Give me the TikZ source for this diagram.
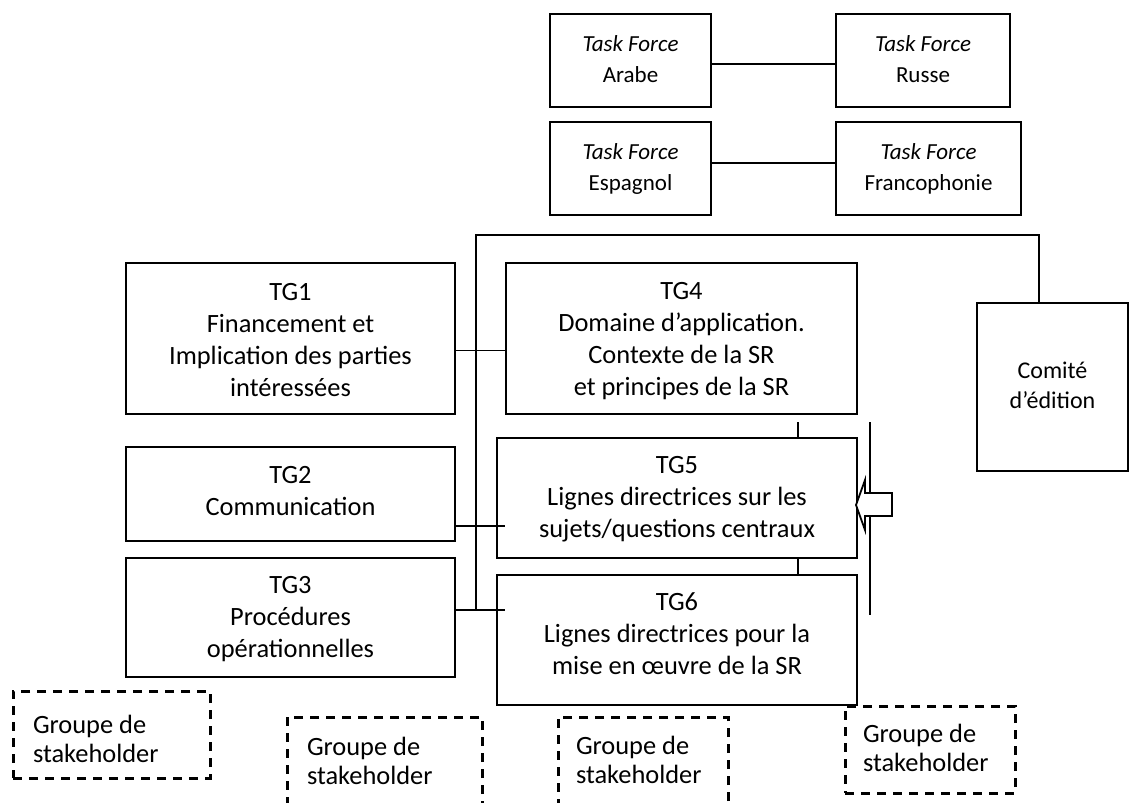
\documentclass[tikz,border=0pt]{standalone}
\usepackage{fontspec}
\setmainfont{Carlito}
\newcommand{\bxt}[4]{\parbox[c][#2pt][t]{#1pt}{\centering\rule{0pt}{#3pt}#4}}
\newcommand{\bxl}[5]{\parbox[c][#2pt][t]{#1pt}{\raggedright\leftskip=#4pt\relax\rule{0pt}{#3pt}#5}}
\newcommand{\tff}{\fontsize{23}{31}\selectfont}
\newcommand{\tgf}{\fontsize{26.4}{32.3}\selectfont}
\newcommand{\cmf}{\fontsize{24}{30}\selectfont}
\newcommand{\shf}{\fontsize{26.4}{29.5}\selectfont}
\tikzset{
  bx/.style={draw, line width=1.9pt, inner sep=0pt},
  dbx/.style={draw, line width=3pt, dash pattern=on 9pt off 7pt, inner sep=0pt},
  conn/.style={line width=1.4pt},
  blockarrow/.style={draw, fill=white, line width=1.8pt, line join=miter}
}
\begin{document}
\begin{tikzpicture}[x=1pt, y=-1pt]
\useasboundingbox (0,0) rectangle (1141,803);
\clip (0,0) rectangle (1141,803);
\fill[white] (0,0) rectangle (1141,803);

% Task forces
\node[bx, font=\tff] (ar) at (630.5,60.5) {\bxt{161}{93}{37}{\textit{Task Force}\\Arabe}};
\node[bx, font=\tff] (ru) at (923,60.5) {\bxt{174}{93}{37}{\textit{Task Force}\\Russe}};
\node[bx, font=\tff] (es) at (630.5,168.5) {\bxt{161}{93}{37}{\textit{Task Force}\\Espagnol}};
\node[bx, font=\tff] (fr) at (928.5,168.5) {\bxt{185}{93}{37}{\textit{Task Force}\\Francophonie}};
\draw[conn] ([yshift=-3.5pt]ar.east) -- ([yshift=-3.5pt]ru.west);
\draw[conn] ([yshift=5.5pt]es.east) -- ([yshift=5.5pt]fr.west);

% TG boxes
\node[bx, font=\tgf] (tg1) at (290.5,338.5) {\bxt{329}{151}{37}{TG1\\Financement et\\Implication des parties\\intéressées}};
\node[bx, font=\tgf] (tg2) at (290.5,494) {\bxt{329}{94}{36}{TG2\\Communication}};
\node[bx, font=\tgf] (tg3) at (290.5,617.5) {\bxt{329}{119}{35}{TG3\\Procédures\\opérationnelles}};
\node[bx, font=\tgf] (tg4) at (681.5,338.5) {\bxt{351}{151}{36}{TG4\\Domaine d’application.\\Contexte de la SR\\et principes de la SR}};
\node[bx, font=\tgf] (tg5) at (677,498) {\bxt{360}{120}{35}{TG5\\Lignes directrices sur les\\sujets/questions centraux}};
\node[bx, font=\tgf] (tg6) at (677,640) {\bxt{360}{130}{35}{TG6\\Lignes directrices pour la\\mise en œuvre de la SR}};
\node[bx, font=\cmf] (com) at (1052.5,387) {\bxt{151}{168}{75}{Comité\\d’édition}};

% main tree
\coordinate (bt) at (476,235);
\coordinate (bb) at (476,610);
\coordinate (ct) at (1039,235);
\draw[conn] (bb) -- (bt) -- (ct) -- (ct |- com.north);
\draw[conn] ([yshift=-12pt]tg1.east) -- ([yshift=-12pt]tg4.west);
\draw[conn] ([yshift=-32pt]tg2.east) -- ([yshift=-32pt]tg2.east -| tg4.west);
\draw[conn] ([yshift=7.5pt]tg3.east) -- ([yshift=7.5pt]tg3.east -| tg4.west);

% TG4-TG5-TG6 links
\coordinate (v1) at (798,422);
\draw[conn] (v1) -- (v1 |- tg5.north);
\draw[conn] (tg5.south -| v1) -- (tg6.north -| v1);

% right vertical line and block arrow
\coordinate (r1) at (870,422);
\coordinate (r2) at (870,615);
\draw[conn] (r1) -- (r2);
\coordinate (tip) at (856,505);
\draw[blockarrow] (tip) -- (865,480) -- (865,493) -- (892,493) -- (892,516) -- (865,516) -- (865,530) -- cycle;

% stakeholder groups
\node[dbx, font=\shf] (sh1) at (111.5,734.5) {\bxl{197}{87}{42}{20}{Groupe de\\stakeholder}};
\node[dbx, font=\shf] (sh2) at (384.5,762) {\bxl{195}{90}{38}{20}{Groupe de\\stakeholder}};
\node[dbx, font=\shf] (sh3) at (643,762) {\bxl{170}{90}{37}{18}{Groupe de\\stakeholder}};
\node[dbx, font=\shf] (sh4) at (930,749.5) {\bxl{170}{87}{36}{18}{Groupe de\\stakeholder}};
\end{tikzpicture}
\end{document}
